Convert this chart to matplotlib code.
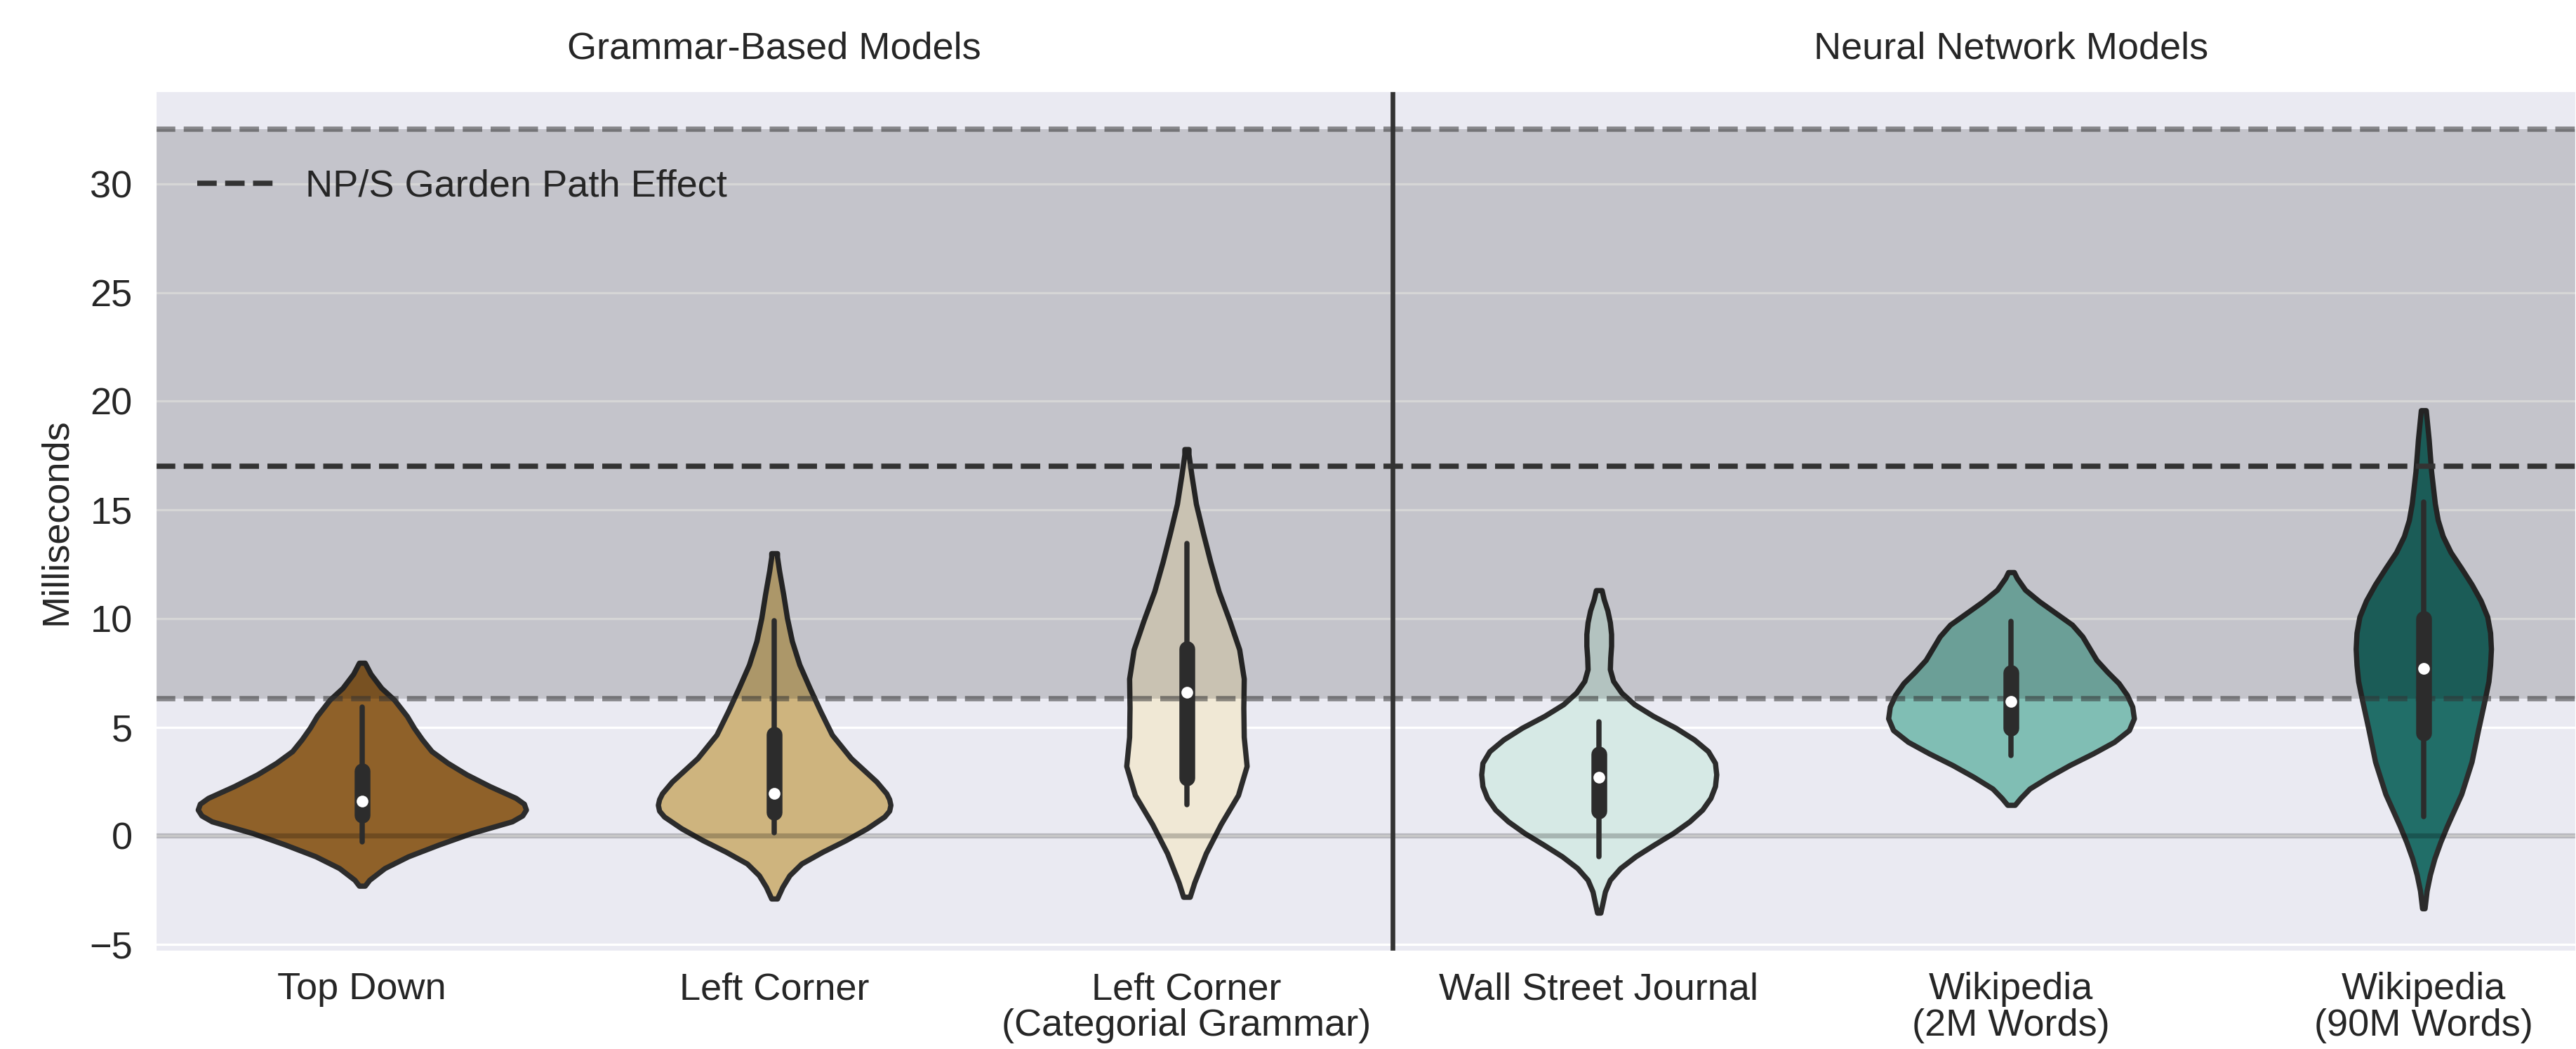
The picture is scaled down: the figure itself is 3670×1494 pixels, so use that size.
import numpy as np
import matplotlib
matplotlib.use("Agg")
import matplotlib.pyplot as plt
import seaborn as sns

# categories and colours
labels = ["Top Down", "Left Corner", "Left Corner\n(Categorial Grammar)",
          "Wall Street Journal", "Wikipedia\n(2M Words)", "Wikipedia\n(90M Words)"]
colors = ["#8f6129", "#ceb47e", "#f0e8d5", "#d6e9e5", "#80beb4", "#216e68"]

# violin outlines: value (ms) and half width (category units)
td_y = [7.96, 7.45, 6.80, 6.26, 5.51, 4.97, 4.43, 3.89, 3.35, 2.82, 2.28, 1.74,
        1.47, 1.20, 0.93, 0.66, 0.12, -0.41, -0.95, -1.49, -2.03, -2.30]
td_w = [0.007, 0.021, 0.047, 0.078, 0.109, 0.126, 0.146, 0.169, 0.208, 0.254, 0.310, 0.373,
        0.393, 0.398, 0.389, 0.364, 0.265, 0.186, 0.112, 0.055, 0.018, 0.007]

lc_y = [13.0, 12.83, 12.19, 11.11, 10.03, 8.96, 7.88, 6.80, 5.73, 4.65, 3.57, 2.49,
        1.95, 1.68, 1.42, 1.15, 0.88, 0.34, -0.20, -0.74, -1.28, -1.82, -2.35, -2.89]
lc_w = [0.007, 0.007, 0.012, 0.022, 0.031, 0.043, 0.061, 0.086, 0.112, 0.140, 0.186, 0.248,
        0.272, 0.279, 0.282, 0.279, 0.267, 0.225, 0.174, 0.117, 0.066, 0.037, 0.020, 0.007]

cg_y = [17.79, 17.55, 16.61, 15.27, 13.93, 12.59, 11.25, 9.91, 8.57, 7.23, 5.89, 4.55,
        3.21, 1.87, 0.53, -0.80, -2.15, -2.81]
cg_w = [0.005, 0.005, 0.012, 0.023, 0.040, 0.058, 0.078, 0.104, 0.128, 0.139, 0.138, 0.139,
        0.146, 0.125, 0.083, 0.047, 0.019, 0.008]

wsj_y = [11.30, 10.89, 10.36, 9.82, 9.28, 8.74, 8.20, 7.66, 7.12, 6.58, 6.05, 5.51, 4.97,
         4.43, 3.89, 3.35, 2.82, 2.28, 1.74, 1.20, 0.66, 0.12, -0.41, -0.95, -1.49, -2.03,
         -2.57, -3.11, -3.54]
wsj_w = [0.007, 0.012, 0.021, 0.027, 0.030, 0.030, 0.028, 0.027, 0.035, 0.055, 0.086, 0.132,
         0.186, 0.231, 0.265, 0.282, 0.285, 0.282, 0.271, 0.251, 0.220, 0.180, 0.134, 0.089,
         0.052, 0.027, 0.015, 0.009, 0.004]

w2_y = [12.13, 11.86, 11.32, 10.79, 10.25, 9.71, 9.17, 8.63, 8.09, 7.55, 7.02, 6.48, 5.94,
        5.40, 4.86, 4.32, 3.79, 3.25, 2.71, 2.17, 1.74, 1.42]
w2_w = [0.007, 0.014, 0.034, 0.068, 0.108, 0.148, 0.173, 0.190, 0.207, 0.233, 0.261, 0.281,
        0.294, 0.298, 0.286, 0.250, 0.199, 0.142, 0.091, 0.045, 0.023, 0.009]

w90_y = [19.58, 18.24, 16.76, 15.28, 14.53, 13.79, 13.05, 12.31, 11.57, 10.82, 10.08, 9.34,
         8.60, 7.86, 7.11, 6.37, 4.89, 3.41, 1.92, 0.44, -0.30, -1.04, -1.79, -2.53, -3.34]
w90_w = [0.006, 0.013, 0.019, 0.028, 0.035, 0.047, 0.066, 0.092, 0.117, 0.139, 0.155, 0.162,
         0.164, 0.162, 0.158, 0.150, 0.133, 0.117, 0.092, 0.057, 0.041, 0.027, 0.016, 0.008,
         0.003]

outlines = [(td_y, td_w), (lc_y, lc_w), (cg_y, cg_w),
            (wsj_y, wsj_w), (w2_y, w2_w), (w90_y, w90_w)]

# whisker low, q1, median, q3, whisker high
box_stats = [
    [-0.28, 0.95, 1.60, 2.98, 5.94],
    [0.15, 1.09, 1.95, 4.65, 9.90],
    [1.44, 2.65, 6.60, 8.60, 13.45],
    [-0.95, 1.15, 2.71, 3.75, 5.25],
    [3.70, 4.97, 6.18, 7.52, 9.88],
    [0.89, 4.74, 7.71, 10.01, 15.35],
]

gp_effect = 17.0
gp_low, gp_high = 6.3, 32.5
groups = ["Grammar-Based Models", "Neural Network Models"]

sns.set_style("darkgrid")
plt.rcParams['font.family'] = ['Liberation Sans', 'DejaVu Sans']
plt.rcParams['text.color'] = '.15'
plt.rcParams['axes.labelcolor'] = '.15'
plt.rcParams['xtick.color'] = '.15'
plt.rcParams['ytick.color'] = '.15'
fs = 19.5

fig = plt.figure(figsize=(18.35, 7.47), dpi=200)
ax = fig.add_axes([0.0605, 0.093, 0.9395, 0.82])
edge = '#2c2c2c'

for i, (ys, ws) in enumerate(outlines):
    ys = np.array(ys)
    ws = np.array(ws)
    ax.fill_betweenx(ys, i - ws, i + ws, facecolor=colors[i], edgecolor=edge,
                     linewidth=2.7, zorder=1)
    lo, q1, med, q3, hi = box_stats[i]
    ax.plot([i, i], [lo, hi], color=edge, lw=2.7, solid_capstyle='round', zorder=3)
    ax.plot([i, i], [q1, q3], color=edge, lw=8.1, solid_capstyle='round', zorder=3)
    ax.plot([i], [med], 'o', color='white', ms=5, mec='white', zorder=4)

ax.axhspan(gp_low, gp_high, color='k', alpha=0.16, lw=0, zorder=1.5)
ax.axhline(0, color='k', alpha=0.22, lw=2.6, zorder=1.6)
ax.axhline(gp_low, color='.2', alpha=0.55, lw=2.7, ls='--', zorder=2.5)
ax.axhline(gp_high, color='.2', alpha=0.55, lw=2.7, ls='--', zorder=2.5)
gp_line = ax.axhline(gp_effect, color='.2', lw=2.7, ls='--', zorder=2.5,
                     label='NP/S Garden Path Effect')
ax.axvline(2.5, color='.2', lw=2.4, zorder=2.5)

ax.set_xlim(-0.5, 5.37)
ax.set_ylim(-5.32, 34.26)
ax.set_xticks(range(len(labels)))
ax.set_xticklabels(labels, fontsize=fs, linespacing=1.05)
ax.set_yticks(range(-5, 31, 5))
ax.tick_params(axis='y', labelsize=fs, pad=12.0, length=0)
ax.tick_params(axis='x', pad=10.5, length=0)
ax.yaxis.grid(True, color='white', lw=1.2)
ax.xaxis.grid(False)
ax.set_ylabel('Milliseconds', fontsize=fs)
ax.yaxis.set_label_coords(-0.034, 0.5)

ax.text(1, 1.049, groups[0], transform=ax.get_xaxis_transform(),
        ha='center', va='center', fontsize=fs)
ax.text(4, 1.049, groups[1], transform=ax.get_xaxis_transform(),
        ha='center', va='center', fontsize=fs)

ax.legend(handles=[gp_line], loc='center left', bbox_to_anchor=(0.0171, 0.889),
          frameon=False, fontsize=fs, borderpad=0, handlelength=2.0,
          handletextpad=0.85, borderaxespad=0)

fig.savefig('out.png', dpi=200)
